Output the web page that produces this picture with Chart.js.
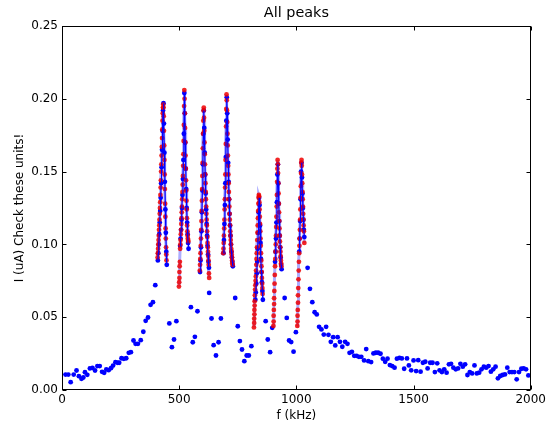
<!DOCTYPE html>
<html>
<head>
<meta charset="utf-8">
<script src="https://cdn.jsdelivr.net/npm/chart.js@4.4.0/dist/chart.umd.min.js"></script>
<style>
html, body { margin: 0; padding: 0; background: #fff; }
#wrap { width: 549px; height: 430px; }
</style>
</head>
<body>
<div id="wrap"><canvas id="chart" width="549" height="430"></canvas></div>
<script>

// coarse sweep, f in kHz, I in uA
const lowF = [15,27,37,50,62,72,83,91,98,108,119,130,141,151,161,171,180,189,199,209,218,228,237,244,254,264,274,285,294,305,314,324,336,347,357,367,378,388,398];
const lowI = [0.0106,0.0106,0.0054,0.0106,0.0134,0.0095,0.0077,0.0086,0.0122,0.0104,0.0148,0.0152,0.0134,0.0164,0.0164,0.0125,0.0118,0.0141,0.0136,0.0150,0.0168,0.0191,0.0187,0.0187,0.0218,0.0214,0.0218,0.0255,0.0260,0.0340,0.0317,0.0317,0.0342,0.0400,0.0475,0.0498,0.0585,0.0603,0.0720];

const midF = [458,469,478,488,550,558,567,578,628,638,647,657,668,678,739,750,759,768,778,788,797,808,869,878,888,897,950,959,969,978,988,998];
const midI = [0.0457,0.0294,0.0347,0.0473,0.0569,0.0328,0.0365,0.0541,0.0667,0.0491,0.0308,0.0237,0.0328,0.0491,0.0632,0.0438,0.0336,0.0278,0.0198,0.0237,0.0237,0.0301,0.0473,0.0347,0.0260,0.0427,0.0632,0.0495,0.0340,0.0329,0.0263,0.0397];

const highF = [1048,1058,1068,1078,1087,1097,1107,1117,1127,1137,1147,1157,1166,1176,1186,1196,1208,1218,1227,1237,1247,1257,1267,1277,1289,1298,1307,1319,1329,1339,1349,1359,1369,1379,1389,1399,1409,1419,1429,1440,1450,1460,1472,1480,1490,1500,1511,1520,1530,1540,1550,1560,1571,1581,1591,1601,1611,1621,1631,1641,1651,1660,1670,1680,1690,1700,1710,1720,1730,1740,1750,1760,1770,1780,1790,1800,1810,1820,1830,1840,1850,1860,1870,1880,1890,1900,1910,1920,1930,1940,1950,1960,1970,1980,1990];
const highI = [0.0839,0.0695,0.0603,0.0534,0.0519,0.0434,0.0416,0.0381,0.0434,0.0379,0.0331,0.0363,0.0306,0.0363,0.0331,0.0297,0.0331,0.0317,0.0255,0.0262,0.0235,0.0235,0.0228,0.0228,0.0203,0.0281,0.0198,0.0192,0.0251,0.0256,0.0256,0.0249,0.0215,0.0194,0.0215,0.0171,0.0164,0.0153,0.0215,0.0221,0.0217,0.0146,0.0217,0.0169,0.0135,0.0203,0.0130,0.0205,0.0126,0.0187,0.0194,0.0148,0.0187,0.0187,0.0123,0.0183,0.0135,0.0123,0.0142,0.0119,0.0176,0.0180,0.0153,0.0142,0.0148,0.0180,0.0160,0.0176,0.0103,0.0123,0.0114,0.0169,0.0114,0.0119,0.0142,0.0160,0.0153,0.0164,0.0126,0.0142,0.0160,0.0080,0.0096,0.0103,0.0107,0.0153,0.0123,0.0123,0.0123,0.0073,0.0123,0.0146,0.0148,0.0142,0.0100];

// fine scans (blue line) around each peak
const p1F = [409,411,413,415,417,419,421,423,425,427,429,431,433,435,437,439,441,443,445,447];
const p1I = [0.089,0.094,0.100,0.107,0.115,0.123,0.132,0.142,0.153,0.165,0.178,0.192,0.197,0.183,0.163,0.143,0.124,0.108,0.095,0.086];
const p2F = [504,506,508,510,512,514,516,518,520,522,524,526,528,530,532,534,536,538,540];
const p2I = [0.099,0.104,0.110,0.117,0.125,0.134,0.145,0.158,0.176,0.204,0.190,0.170,0.152,0.138,0.125,0.115,0.107,0.101,0.097];
const p3F = [589,591,593,595,597,599,601,603,605,607,609,611,613,615,617,619,621,623,625,627];
const p3I = [0.081,0.089,0.098,0.109,0.122,0.137,0.155,0.176,0.192,0.180,0.163,0.148,0.135,0.124,0.114,0.106,0.099,0.093,0.088,0.084];
const p4F = [689,691,693,695,697,699,701,703,705,707,709,711,713,715,717,719,721,723,725,727,729];
const p4I = [0.094,0.103,0.114,0.127,0.142,0.160,0.185,0.201,0.190,0.172,0.156,0.143,0.131,0.121,0.113,0.106,0.100,0.095,0.091,0.088,0.085];
const p5F = [825,827,829,831,833,835,837,839,841,843,845,847,849,851,853,855,857];
const p5I = [0.062,0.067,0.073,0.080,0.088,0.097,0.108,0.122,0.132,0.127,0.113,0.101,0.090,0.081,0.074,0.068,0.062];
const p6F = [909,911,913,915,917,919,921,923,925,927,929,931,933,935,937];
const p6I = [0.088,0.095,0.104,0.115,0.129,0.148,0.155,0.142,0.128,0.116,0.106,0.098,0.091,0.086,0.083];
const p7F = [1012,1014,1016,1018,1020,1022,1024,1026,1028,1030,1032,1034];
const p7I = [0.095,0.104,0.116,0.131,0.150,0.156,0.146,0.135,0.125,0.117,0.110,0.105];

// red points on the peaks
const r1F = [408,409,410,411,412,413,414,415,416,417,418,419,420,421,422,423,424,425,426,427,428,429,430,431,432,433,434,435,436,437,438,439,440,441,442,443,444,445,446];
const r1I = [0.091,0.094,0.097,0.100,0.103,0.106,0.110,0.113,0.117,0.121,0.125,0.129,0.134,0.139,0.144,0.150,0.155,0.161,0.167,0.173,0.179,0.185,0.190,0.194,0.196,0.194,0.188,0.178,0.168,0.158,0.148,0.138,0.128,0.119,0.111,0.104,0.098,0.093,0.089];
const r2F = [499,500,501,501,502,503,504,505,506,507,508,509,510,511,512,513,514,515,516,517,518,519,520,521,522,523,524,525,526,527,528,529,530,531,532,533,534,535,536,537,538,539];
const r2I = [0.071,0.074,0.077,0.081,0.085,0.088,0.097,0.100,0.103,0.107,0.110,0.114,0.118,0.122,0.126,0.131,0.136,0.141,0.147,0.154,0.162,0.171,0.182,0.195,0.206,0.200,0.190,0.180,0.170,0.161,0.152,0.144,0.137,0.130,0.124,0.118,0.113,0.109,0.106,0.104,0.103,0.102];
const r3F = [588,589,590,591,592,593,594,595,596,597,598,599,600,601,602,603,604,605,606,607,608,609,610,611,612,613,614,615,616,617,618,619,620,621,622,623,624,625,626,627,628];
const r3I = [0.082,0.086,0.090,0.094,0.099,0.104,0.110,0.116,0.123,0.130,0.138,0.147,0.156,0.166,0.176,0.185,0.192,0.194,0.187,0.178,0.170,0.162,0.155,0.148,0.142,0.136,0.131,0.126,0.121,0.117,0.113,0.109,0.105,0.101,0.098,0.095,0.092,0.089,0.086,0.080,0.077];
const r4F = [688,689,690,691,692,693,694,695,696,697,698,699,700,701,702,703,704,705,706,707,708,709,710,711,712,713,714,715,716,717,718,719,720,721,722,723,724,725,726,727,728];
const r4I = [0.094,0.097,0.101,0.106,0.111,0.117,0.124,0.131,0.139,0.148,0.158,0.169,0.181,0.193,0.203,0.199,0.192,0.184,0.176,0.168,0.161,0.154,0.148,0.142,0.136,0.131,0.126,0.121,0.117,0.113,0.109,0.106,0.103,0.100,0.097,0.095,0.093,0.091,0.089,0.087,0.086];
const r5F = [819,820,820,821,821,822,822,823,824,825,826,827,828,829,830,831,832,833,834,835,836,837,838,839,840,841,842,843,844,845,846,847,848,849,850,851,852,853,854,855,856];
const r5I = [0.043,0.046,0.049,0.052,0.055,0.058,0.061,0.065,0.069,0.072,0.075,0.078,0.082,0.086,0.090,0.094,0.098,0.103,0.108,0.113,0.118,0.123,0.128,0.132,0.134,0.133,0.129,0.124,0.119,0.114,0.109,0.104,0.099,0.094,0.089,0.085,0.081,0.077,0.073,0.070,0.066];
const r6F = [902,903,903,904,905,905,906,907,908,909,910,911,912,913,914,915,916,917,918,919,920,921,922,923,924,925,926,927,928,929,930,931,932,933,934,935,936];
const r6I = [0.044,0.047,0.051,0.055,0.059,0.063,0.068,0.073,0.079,0.085,0.090,0.095,0.100,0.106,0.112,0.119,0.126,0.134,0.143,0.152,0.158,0.155,0.149,0.142,0.135,0.128,0.122,0.116,0.111,0.106,0.102,0.098,0.095,0.092,0.089,0.087,0.085];
const r7F = [1004,1005,1005,1006,1007,1007,1008,1009,1010,1011,1012,1013,1014,1015,1016,1017,1018,1019,1020,1021,1022,1023,1024,1025,1026,1027,1028,1029,1030,1031,1032,1034];
const r7I = [0.044,0.047,0.051,0.055,0.060,0.065,0.070,0.076,0.082,0.088,0.094,0.099,0.104,0.110,0.117,0.124,0.132,0.140,0.149,0.156,0.158,0.154,0.148,0.142,0.136,0.131,0.126,0.121,0.117,0.113,0.109,0.101];

const xTicks = [0, 500, 1000, 1500, 2000];
const yTicks = [0, 0.05, 0.10, 0.15, 0.20, 0.25];

const fine = [[p1F,p1I],[p2F,p2I],[p3F,p3I],[p4F,p4I],[p5F,p5I],[p6F,p6I],[p7F,p7I]];
const reds = [[r1F,r1I],[r2F,r2I],[r3F,r3I],[r4F,r4I],[r5F,r5I],[r6F,r6I],[r7F,r7I]];

const pts = (xs, ys) => xs.map((x, k) => ({ x: x, y: ys[k] }));
const FONT = '"DejaVu Sans", sans-serif';

const datasets = [];
// first dataset ends up on top: blue line, red dots, blue dots, pale line, sweep
fine.forEach(p => datasets.push({
    data: pts(p[0], p[1]), showLine: true,
    borderColor: '#0000ff', borderWidth: 1.2, pointRadius: 0
}));
reds.forEach(r => datasets.push({
    data: pts(r[0], r[1]), showLine: false,
    pointRadius: 2.4, pointBackgroundColor: 'rgba(240,0,0,0.85)', pointBorderWidth: 0
}));
fine.forEach(p => datasets.push({
    data: pts(p[0], p[1]), showLine: false,
    pointRadius: 2.4, pointBackgroundColor: '#0000ff', pointBorderWidth: 0
}));
reds.forEach(r => datasets.push({
    data: pts(r[0], r[1]), showLine: true,
    borderColor: 'rgba(90,90,255,0.5)', borderWidth: 3, pointRadius: 0
}));
[[lowF,lowI],[midF,midI],[highF,highI]].forEach(c => datasets.push({
    data: pts(c[0], c[1]), showLine: false,
    pointRadius: 2.4, pointBackgroundColor: '#0000ff', pointBorderWidth: 0
}));

// frame, inward ticks and the title
const frame = {
    id: 'frame',
    afterDraw(chart) {
        const { ctx, chartArea: a, scales: { x, y } } = chart;
        const L = Math.round(a.left) + 0.5, R = Math.round(a.right) - 0.5;
        const T = Math.round(a.top) + 0.5, B = Math.round(a.bottom) - 0.5;
        ctx.save();
        ctx.strokeStyle = '#000';
        ctx.lineWidth = 1;
        ctx.strokeRect(L, T, R - L, B - T);
        ctx.beginPath();
        xTicks.forEach(v => {
            const px = Math.round(x.getPixelForValue(v)) + 0.5;
            ctx.moveTo(px, B); ctx.lineTo(px, B - 4);
            ctx.moveTo(px, T); ctx.lineTo(px, T + 4);
        });
        yTicks.forEach(v => {
            const py = Math.round(y.getPixelForValue(v)) + 0.5;
            ctx.moveTo(L, py); ctx.lineTo(L + 4, py);
            ctx.moveTo(R, py); ctx.lineTo(R - 4, py);
        });
        ctx.stroke();
        ctx.fillStyle = '#000';
        ctx.font = '14.4px ' + FONT;
        ctx.textAlign = 'center';
        ctx.textBaseline = 'middle';
        ctx.fillText('All peaks', (a.left + a.right) / 2, 13);
        ctx.restore();
    }
};

new Chart(document.getElementById('chart'), {
    type: 'scatter',
    data: { datasets },
    options: {
        responsive: false,
        animation: false,
        devicePixelRatio: 1,
        layout: { padding: { top: 26, right: 18, bottom: 0, left: 0 } },
        plugins: { legend: { display: false }, tooltip: { enabled: false } },
        scales: {
            x: {
                type: 'linear', min: 0, max: 2000,
                afterFit: s => { s.height = 40; },
                afterBuildTicks: s => { s.ticks = xTicks.map(v => ({ value: v })); },
                grid: { display: false, drawTicks: false },
                border: { display: false },
                ticks: { color: '#000', padding: 3, maxRotation: 0, font: { family: FONT, size: 12 }, callback: v => String(v) },
                title: { display: true, text: 'f (kHz)', color: '#000', padding: { top: 0, bottom: 7 }, font: { family: FONT, size: 12 } }
            },
            y: {
                type: 'linear', min: 0, max: 0.25,
                afterFit: s => { s.width = 62; },
                afterBuildTicks: s => { s.ticks = yTicks.map(v => ({ value: v })); },
                grid: { display: false, drawTicks: false },
                border: { display: false },
                ticks: { color: '#000', padding: 4, font: { family: FONT, size: 12 }, callback: v => v.toFixed(2) },
                title: { display: true, text: 'I (uA) Check these units!', color: '#000', padding: { top: 13, bottom: 0 }, font: { family: FONT, size: 12 } }
            }
        }
    },
    plugins: [frame]
});
</script>
</body>
</html>
